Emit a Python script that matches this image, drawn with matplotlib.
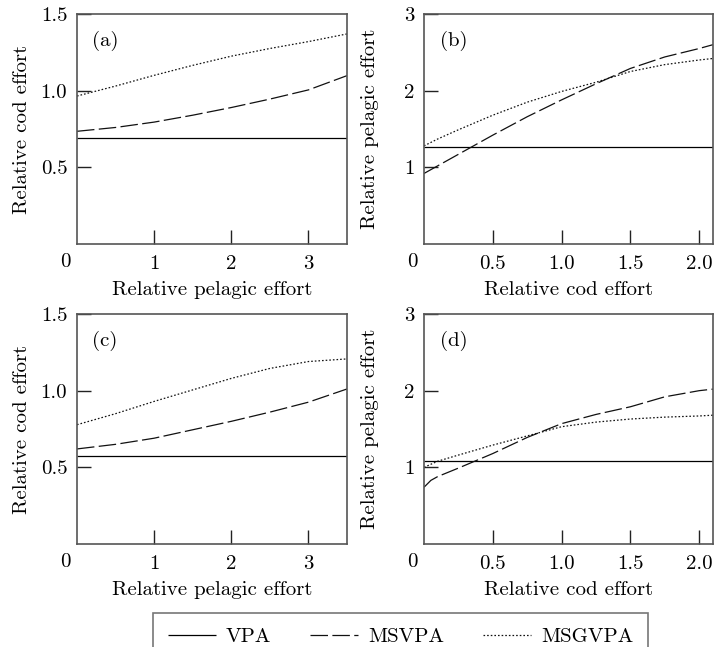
import matplotlib
matplotlib.use("Agg")
import matplotlib.pyplot as plt

plt.rcParams['font.family'] = ['cmr10', 'DejaVu Serif']
plt.rcParams['axes.formatter.use_mathtext'] = True
plt.rcParams['mathtext.fontset'] = 'cm'

# ---------------- data ----------------
# Panel (a): relative cod effort vs relative pelagic effort
a_x = [0.0, 0.5, 1.0, 1.5, 2.0, 2.5, 3.0, 3.5]
a_vpa = [0.69] * len(a_x)
a_msvpa = [0.735, 0.76, 0.795, 0.84, 0.89, 0.945, 1.005, 1.098]
a_msgvpa = [0.965, 1.03, 1.10, 1.165, 1.225, 1.275, 1.32, 1.37]

# Panel (b): relative pelagic effort vs relative cod effort
b_x = [0.0, 0.1, 0.25, 0.5, 0.75, 1.0, 1.25, 1.5, 1.75, 2.0, 2.1]
b_vpa = [1.27] * len(b_x)
b_msvpa = [0.92, 1.02, 1.17, 1.42, 1.66, 1.88, 2.09, 2.29, 2.44, 2.55, 2.60]
b_msgvpa = [1.28, 1.37, 1.49, 1.68, 1.85, 1.99, 2.11, 2.25, 2.34, 2.40, 2.42]

# Panel (c)
c_x = [0.0, 0.5, 1.0, 1.5, 2.0, 2.5, 3.0, 3.5]
c_vpa = [0.572] * len(c_x)
c_msvpa = [0.62, 0.65, 0.69, 0.745, 0.80, 0.86, 0.925, 1.011]
c_msgvpa = [0.778, 0.85, 0.93, 1.005, 1.08, 1.145, 1.19, 1.207]

# Panel (d)
d_x = [0.0, 0.05, 0.1, 0.25, 0.5, 0.75, 1.0, 1.25, 1.5, 1.75, 2.0, 2.1]
d_vpa = [1.08] * len(d_x)
d_msvpa = [0.74, 0.83, 0.88, 0.99, 1.18, 1.39, 1.57, 1.69, 1.79, 1.92, 2.0, 2.02]
d_msgvpa = [1.0, 1.04, 1.08, 1.16, 1.29, 1.41, 1.53, 1.59, 1.63, 1.655, 1.67, 1.68]

series_names = ['VPA', 'MSVPA', 'MSGVPA']
panel_letters = ['(a)', '(b)', '(c)', '(d)']
xlabels = ['Relative pelagic effort', 'Relative cod effort',
           'Relative pelagic effort', 'Relative cod effort']
ylabels = ['Relative cod effort', 'Relative pelagic effort',
           'Relative cod effort', 'Relative pelagic effort']
cod_xticks = [1, 2, 3]
cod_yticks = [0.5, 1.0, 1.5]
cod_yticklabels = ['0.5', '1.0', '1.5']
pel_xticks = [0.5, 1.0, 1.5, 2.0]
pel_xticklabels = ['0.5', '1.0', '1.5', '2.0']
pel_yticks = [1, 2, 3]

# ---------------- figure ----------------
W, H = 715, 647
fig = plt.figure(figsize=(W / 100, H / 100), dpi=100)

def ax_at(left, top, right, bottom):
    return fig.add_axes([left / W, 1 - bottom / H, (right - left) / W, (bottom - top) / H])

boxes = [(77, 14, 347, 244), (424, 14, 713, 244),
         (77, 314, 347, 544), (424, 314, 713, 544)]
ylabel_px = [22, 370, 22, 370]
axes = [ax_at(*b) for b in boxes]

data = [(a_x, a_vpa, a_msvpa, a_msgvpa), (b_x, b_vpa, b_msvpa, b_msgvpa),
        (c_x, c_vpa, c_msvpa, c_msgvpa), (d_x, d_vpa, d_msvpa, d_msgvpa)]

spine_col = '#555555'
FS = 15
handles = None
for i, ax in enumerate(axes):
    x, vpa, ms, msg = data[i]
    l1, = ax.plot(x, vpa, color='black', lw=0.9, solid_capstyle='butt')
    l2, = ax.plot(x, ms, color='#111111', lw=0.9, dashes=(14, 3.5))
    l3, = ax.plot(x, msg, color='#111111', lw=0.9, dashes=(1.3, 1.6))
    if handles is None:
        handles = [l1, l2, l3]
    if i % 2 == 0:
        ax.set_xlim(0, 3.5)
        ax.set_ylim(0, 1.5)
        ax.set_xticks(cod_xticks)
        ax.set_xticklabels([str(t) for t in cod_xticks])
        ax.set_yticks(cod_yticks)
        ax.set_yticklabels(cod_yticklabels)
    else:
        ax.set_xlim(0, 2.1)
        ax.set_ylim(0, 3)
        ax.set_xticks(pel_xticks)
        ax.set_xticklabels(pel_xticklabels)
        ax.set_yticks(pel_yticks)
        ax.set_yticklabels([str(t) for t in pel_yticks])
    for s in ax.spines.values():
        s.set_color(spine_col)
        s.set_linewidth(1.2)
    ax.tick_params(direction='in', length=10, width=1.0, color='#222222',
                   labelsize=FS, top=False, right=False)
    ax.tick_params(axis='x', pad=8)
    ax.tick_params(axis='y', pad=7)
    ax.set_xlabel(xlabels[i], fontsize=FS, labelpad=6)
    ax.set_ylabel(ylabels[i], fontsize=FS)
    l, t, r, b = boxes[i]
    ax.yaxis.set_label_coords((ylabel_px[i] - l) / (r - l), 0.5)
    ax.yaxis.label.set_verticalalignment('center')
    ax.text(0.055, 0.885, panel_letters[i], transform=ax.transAxes,
            fontsize=FS, ha='left', va='center')
    ax.annotate('0', xy=(0, 0), xycoords='axes fraction', xytext=(-12, -18),
                textcoords='offset pixels', fontsize=FS, ha='center', va='center')

leg = fig.legend(handles, series_names, loc='upper center',
                 bbox_to_anchor=(400.5 / W, 1 - 613 / H), ncol=3, fontsize=FS,
                 frameon=True, fancybox=False, handlelength=2.3,
                 handletextpad=0.5, columnspacing=1.85, borderpad=0.7,
                 borderaxespad=0)
leg.get_frame().set_edgecolor(spine_col)
leg.get_frame().set_linewidth(1.2)

fig.savefig('out.png', dpi=100)
